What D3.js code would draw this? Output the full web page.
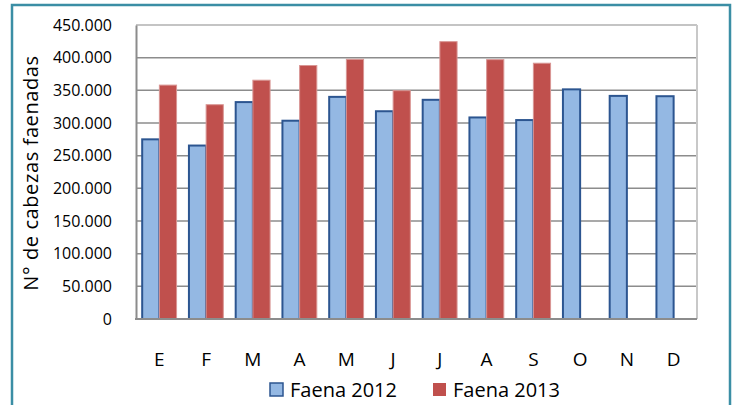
<!DOCTYPE html>
<html>
<head>
<meta charset="utf-8">
<script src="https://cdn.jsdelivr.net/npm/d3@7"></script>
<style>
  body { margin: 0; background: #fff; }
  svg { display: block; font-family: "Open Sans", "Noto Sans", sans-serif; }
</style>
</head>
<body>
<div id="chart"></div>
<script>
// month initials and slaughter counts
const months = ["E", "F", "M", "A", "M", "J", "J", "A", "S", "O", "N", "D"];
const faena2012 = [275000, 265500, 332000, 303500, 340000, 318000, 335500, 308500, 304500, 351500, 341500, 341000];
const faena2013 = [358000, 328000, 365500, 388000, 397500, 349500, 424500, 397000, 391500, null, null, null];
const yTicks = [0, 50000, 100000, 150000, 200000, 250000, 300000, 350000, 400000, 450000];
const seriesNames = ["Faena 2012", "Faena 2013"];

const width = 733, height = 405;
const plot = { left: 136, right: 697, top: 25, bottom: 319 };

const svg = d3.select("#chart").append("svg")
    .attr("width", width)
    .attr("height", height);

// outer frame
svg.append("rect")
    .attr("x", 12).attr("y", 5)
    .attr("width", 718).attr("height", 410)
    .attr("fill", "none")
    .attr("stroke", "#3B8EA5")
    .attr("stroke-width", 2.5);

const x = d3.scaleBand()
    .domain(d3.range(months.length))
    .range([plot.left, plot.right]);

const inner = d3.scaleBand()
    .domain([0, 1])
    .range([0, x.bandwidth()])
    .paddingInner(0)
    .paddingOuter(0.36);

const y = d3.scaleLinear()
    .domain([0, 450000])
    .range([plot.bottom, plot.top]);

const fmt = v => v === 0 ? "0" : d3.format(",")(v).replace(/,/g, ".");

// grid lines
svg.append("g")
    .selectAll("line")
    .data(yTicks)
    .join("line")
    .attr("x1", plot.left).attr("x2", plot.right)
    .attr("y1", d => y(d)).attr("y2", d => y(d))
    .attr("stroke", d => d === 450000 ? "#C4C4C4" : "#8C8C8C")
    .attr("stroke-width", d => d === 450000 ? 2 : 1.5);

// right border of the plot area
svg.append("line")
    .attr("x1", plot.right).attr("x2", plot.right)
    .attr("y1", plot.top).attr("y2", plot.bottom)
    .attr("stroke", "#C8C8C8")
    .attr("stroke-width", 2);

// y axis
const yAxis = svg.append("g")
    .attr("transform", `translate(${plot.left},0)`)
    .call(d3.axisLeft(y).tickValues(yTicks).tickFormat(fmt).tickSize(0).tickPadding(24));
yAxis.select(".domain").attr("stroke", "#8C8C8C").attr("stroke-width", 2);
yAxis.selectAll("text")
    .attr("font-size", 16)
    .attr("fill", "#000")
    .attr("font-family", "'Open Sans', sans-serif");

// bars
const rows = months.map((m, i) => [faena2012[i], faena2013[i]]);
const groups = svg.append("g")
    .selectAll("g")
    .data(rows)
    .join("g")
    .attr("transform", (d, i) => `translate(${x(i)},0)`);

groups.selectAll("rect")
    .data(d => d.map((v, k) => ({ v, k })).filter(o => o.v != null))
    .join("rect")
    .attr("x", o => inner(o.k))
    .attr("y", o => y(o.v))
    .attr("width", inner.bandwidth())
    .attr("height", o => plot.bottom - y(o.v))
    .attr("fill", o => o.k === 0 ? "#94B8E3" : "#C0504D")
    .attr("stroke", o => o.k === 0 ? "#2C5590" : "#D99694")
    .attr("stroke-width", o => o.k === 0 ? 2 : 1);

// x axis line
svg.append("line")
    .attr("x1", plot.left - 1).attr("x2", plot.right)
    .attr("y1", plot.bottom).attr("y2", plot.bottom)
    .attr("stroke", "#8C8C8C")
    .attr("stroke-width", 2);

// month labels
svg.append("g")
    .selectAll("text")
    .data(months)
    .join("text")
    .attr("x", (d, i) => x(i) + x.bandwidth() / 2)
    .attr("y", 366)
    .attr("text-anchor", "middle")
    .attr("font-size", 19)
    .text(d => d);

// y title
svg.append("text")
    .attr("transform", "translate(38,173) rotate(-90)")
    .attr("text-anchor", "middle")
    .attr("font-size", 20)
    .attr("letter-spacing", 0.6)
    .text("N° de cabezas faenadas");

// legend
const legend = svg.append("g").attr("transform", "translate(270,383)");
const legendX = [0, 163];
seriesNames.forEach((name, k) => {
    const g = legend.append("g").attr("transform", `translate(${legendX[k]},0)`);
    g.append("rect")
        .attr("x", 0).attr("y", 0)
        .attr("width", 13).attr("height", 13)
        .attr("fill", k === 0 ? "#94B8E3" : "#C0504D")
        .attr("stroke", k === 0 ? "#2C5590" : "none")
        .attr("stroke-width", 1.5);
    g.append("text")
        .attr("x", 20).attr("y", 14)
        .attr("font-size", 20)
        .text(name);
});
</script>
</body>
</html>
